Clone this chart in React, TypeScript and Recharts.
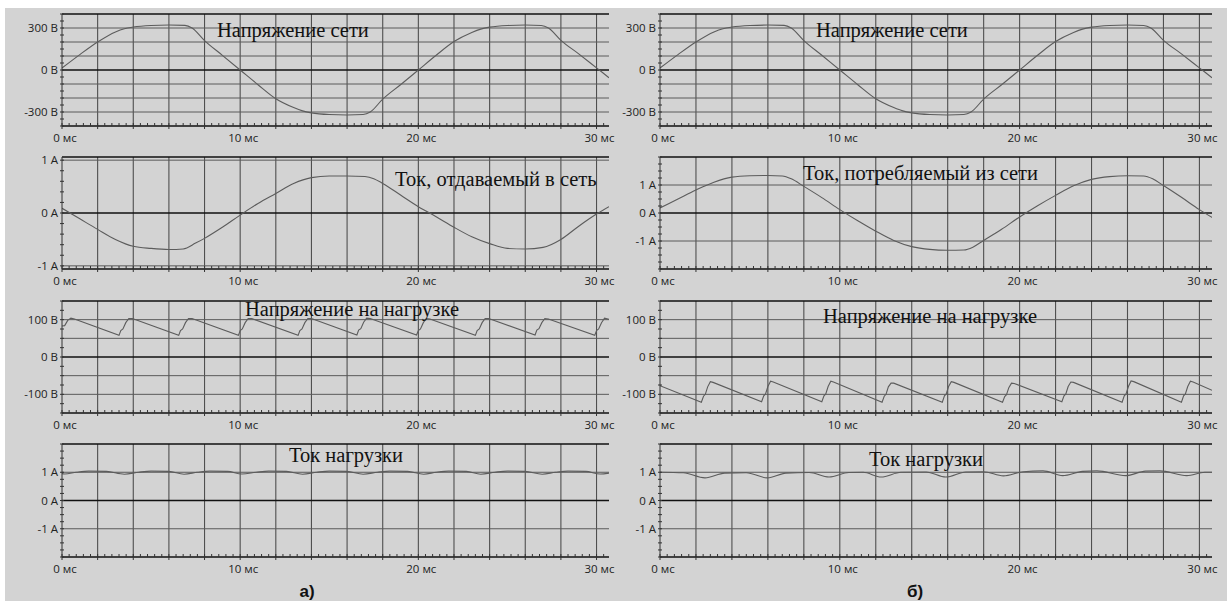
import { LineChart, Line, XAxis, YAxis, ReferenceLine } from 'recharts';

type Pt = [number, number];

const T_MAX = 30.7;

// time axis: labels, 2 ms grid, 0.4 ms minor ticks
const timeLabelValues = [0, 10, 20, 30];
const timeLabels = ['0 мс', '10 мс', '20 мс', '30 мс'];
const timeGrid = [2, 4, 6, 8, 10, 12, 14, 16, 18, 20, 22, 24, 26, 28, 30];
const timeMinor = Array.from({ length: 77 }, (_, i) => (i * 4) / 10);

const titles = {
  gridVoltage: 'Напряжение сети',
  currentOut: 'Ток, отдаваемый в сеть',
  currentIn: 'Ток, потребляемый из сети',
  loadVoltage: 'Напряжение на нагрузке',
  loadCurrent: 'Ток нагрузки',
};

// Напряжение сети (same in a and б), V
const gridVoltage: Pt[] = [
  [0, 14], [1, 110], [2, 200], [3, 272], [3.5, 295], [4, 307], [5, 318], [6, 321], [6.9, 319], [7.3, 300],
  [8, 210], [9, 105], [10, 0], [11, -105], [12, -205], [13, -268], [13.5, -292], [14, -306], [15, -318],
  [16, -321], [16.9, -318], [17.3, -300], [18, -208], [19, -105], [20, 0], [21, 105], [22, 203], [23, 268],
  [23.5, 292], [24, 306], [25, 318], [26, 321], [26.9, 318], [27.3, 300], [28, 212], [29, 115], [30, 15],
  [30.7, -55],
];

// а) Ток, отдаваемый в сеть, A
const currentOut: Pt[] = [
  [0, 0.09], [1, -0.11], [2, -0.31], [3, -0.5], [4, -0.63], [5, -0.67], [6, -0.69], [6.8, -0.68], [7.5, -0.57],
  [8, -0.48], [9, -0.27], [10, -0.04], [11, 0.18], [12, 0.37], [13, 0.56], [14, 0.67], [15, 0.7], [16, 0.7],
  [17, 0.69], [17.5, 0.65], [18, 0.56], [19, 0.34], [20, 0.12], [21, -0.07], [22, -0.27], [23, -0.45],
  [24, -0.58], [25, -0.67], [26, -0.68], [27, -0.65], [28, -0.5], [29, -0.25], [30, -0.02], [30.7, 0.12],
];

// б) Ток, потребляемый из сети, A
const currentIn: Pt[] = [
  [0, 0.18], [1, 0.5], [2, 0.82], [3, 1.1], [4, 1.28], [5, 1.33], [6, 1.34], [6.8, 1.32], [7.3, 1.22],
  [8, 0.95], [9, 0.55], [10, 0.12], [11, -0.28], [12, -0.65], [13, -0.98], [14, -1.2], [15, -1.3], [16, -1.33],
  [16.9, -1.32], [17.4, -1.22], [18, -0.98], [19, -0.58], [20, -0.14], [21, 0.26], [22, 0.63], [23, 0.97],
  [24, 1.2], [25, 1.3], [26, 1.33], [26.9, 1.32], [27.4, 1.22], [28, 0.98], [29, 0.56], [30, 0.12], [30.7, -0.16],
];

// а) Напряжение на нагрузке, V
const loadVoltageA: Pt[] = [
  [0, 83], [0.15, 84], [0.32, 98], [0.5, 104], [0.7, 102],
  [3.2, 58], [3.3, 71], [3.42, 75], [3.58, 92], [3.75, 103], [3.95, 103],
  [6.55, 58], [6.65, 71], [6.77, 75], [6.93, 92], [7.1, 103], [7.3, 103],
  [9.9, 58], [10.0, 71], [10.12, 75], [10.28, 92], [10.45, 103], [10.65, 103],
  [13.25, 58], [13.35, 71], [13.47, 75], [13.63, 92], [13.8, 103], [14.0, 103],
  [16.55, 59], [16.65, 72], [16.77, 76], [16.93, 93], [17.1, 104], [17.3, 103],
  [19.9, 59], [20.0, 71], [20.12, 75], [20.28, 92], [20.45, 103], [20.65, 102],
  [23.2, 58], [23.3, 71], [23.42, 75], [23.58, 92], [23.75, 103], [23.95, 103],
  [26.55, 59], [26.65, 72], [26.77, 76], [26.93, 92], [27.1, 103], [27.3, 102],
  [29.9, 58], [30.0, 71], [30.12, 75], [30.28, 92], [30.45, 104], [30.7, 101],
];

// б) Напряжение на нагрузке, V
const loadVoltageB: Pt[] = [
  [0, -77],
  [2.3, -121], [2.42, -105], [2.52, -100], [2.65, -80], [2.8, -66], [2.95, -68],
  [5.65, -120], [5.77, -104], [5.87, -99], [6.0, -79], [6.15, -65], [6.3, -67],
  [9.0, -120], [9.12, -104], [9.22, -99], [9.35, -79], [9.5, -65], [9.65, -67],
  [12.35, -121], [12.47, -105], [12.57, -100], [12.7, -80], [12.85, -70], [13.0, -70],
  [15.7, -121], [15.82, -104], [15.92, -99], [16.05, -79], [16.2, -66], [16.35, -68],
  [19.05, -121], [19.17, -106], [19.27, -101], [19.4, -82], [19.55, -70], [19.7, -71],
  [22.35, -120], [22.47, -104], [22.57, -99], [22.7, -79], [22.85, -67], [23.0, -68],
  [25.7, -121], [25.82, -104], [25.92, -99], [26.05, -79], [26.2, -64], [26.35, -66],
  [29.0, -121], [29.12, -104], [29.22, -99], [29.35, -79], [29.5, -65], [29.65, -67],
  [30.7, -89],
];

// а) Ток нагрузки, A
const loadCurrentA: Pt[] = [
  [0, 0.95], [0.15, 0.94], [0.8, 1.0], [1.5, 1.04], [2.5, 1.03], [3.5, 0.93], [4.3, 1.0], [5.0, 1.04],
  [6.0, 1.03], [6.85, 0.93], [7.6, 1.0], [8.3, 1.04], [9.3, 1.03], [10.1, 0.94], [10.9, 1.0], [11.6, 1.04],
  [12.6, 1.03], [13.5, 0.93], [14.3, 1.0], [15.0, 1.04], [16.0, 1.03], [16.9, 0.93], [17.7, 1.0], [18.4, 1.04],
  [19.4, 1.03], [20.3, 0.93], [21.0, 1.0], [21.7, 1.04], [22.7, 1.03], [23.5, 0.93], [24.3, 1.0], [25.0, 1.04],
  [26.0, 1.03], [26.95, 0.93], [27.7, 1.0], [28.4, 1.04], [29.4, 1.03], [30.2, 0.94], [30.7, 0.97],
];

// б) Ток нагрузки, A
const loadCurrentB: Pt[] = [
  [0, 1.0], [1.3, 0.98], [2.5, 0.8], [3.6, 0.97], [4.8, 0.98], [5.97, 0.8], [7.0, 0.97], [8.3, 0.99],
  [9.4, 0.83], [10.5, 0.99], [11.3, 1.0], [12.3, 0.83], [13.4, 1.0], [14.8, 1.01], [15.9, 0.83], [17.0, 1.01],
  [18.0, 1.02], [19.1, 0.87], [20.2, 1.02], [21.3, 1.05], [22.4, 0.88], [23.5, 1.03], [24.3, 1.05],
  [25.9, 0.88], [27.0, 1.04], [27.8, 1.05], [29.3, 0.88], [30.3, 1.0], [30.7, 1.0],
];

// y-axis ticks and labels
const voltTicks300 = [-400, -350, -300, -250, -200, -150, -100, -50, 0, 50, 100, 150, 200, 250, 300, 350, 400];
const voltLabels300: [number, string][] = [[300, '300 В'], [0, '0 В'], [-300, '-300 В']];
const voltGrid300 = [-300, -200, -100, 100, 200, 300];

const voltTicks100 = [-150, -125, -100, -75, -50, -25, 0, 25, 50, 75, 100, 125, 150];
const voltLabels100: [number, string][] = [[100, '100 В'], [0, '0 В'], [-100, '-100 В']];
const voltGrid100 = [-100, -50, 50, 100];

const ampTicks1 = [-1, -0.8, -0.6, -0.4, -0.2, 0, 0.2, 0.4, 0.6, 0.8, 1];
const ampTicks2 = [-2, -1.75, -1.5, -1.25, -1, -0.75, -0.5, -0.25, 0, 0.25, 0.5, 0.75, 1, 1.25, 1.5, 1.75, 2];
const ampLabels: [number, string][] = [[1, '1 А'], [0, '0 А'], [-1, '-1 А']];
const ampGrid = [-1, 1];

const TICK_FONT = "'Open Sans', 'DejaVu Sans', sans-serif";
const TITLE_FONT = "'Liberation Serif', 'Times New Roman', serif";

const toRows = (pts: Pt[]) => pts.map(([t, v]) => ({ t, v }));
const near = (a: number, b: number) => Math.abs(a - b) < 1e-6;

function XTick(props: any) {
  const { x, y, payload } = props;
  const v = payload.value as number;
  const major = near(v / 2, Math.round(v / 2));
  const li = timeLabelValues.findIndex((t) => near(t, v));
  return (
    <g>
      <line x1={x} x2={x} y1={y - 3} y2={y + (major ? 3 : 0)} stroke="#333" strokeWidth={1} />
      {li >= 0 && (
        <text x={x + 3} y={y + 16} textAnchor="middle" fontSize={11.5} fontFamily={TICK_FONT} fill="#222">
          {timeLabels[li]}
        </text>
      )}
    </g>
  );
}

function makeYTick(labels: [number, string][]) {
  return (props: any) => {
    const { x, y, payload } = props;
    const hit = labels.find(([v]) => near(v, payload.value));
    return (
      <g>
        <line x1={x - 2} x2={x + 2} y1={y} y2={y} stroke="#333" strokeWidth={1} />
        {hit && (
          <text x={x - 4} y={y + 4} textAnchor="end" fontSize={11.5} fontFamily={TICK_FONT} fill="#222">
            {hit[1]}
          </text>
        )}
      </g>
    );
  };
}

interface PanelProps {
  left: number;
  top: number;
  plotW: number;
  plotH: number;
  series: Pt[];
  curve: 'monotone' | 'linear';
  domain: [number, number];
  grid: number[];
  ticks: number[];
  labels: [number, string][];
}

function Panel({ left, top, plotW, plotH, series, curve, domain, grid, ticks, labels }: PanelProps) {
  const ML = 62;
  const MT = 6;
  const MR = 8;
  const XH = 30;
  return (
    <div style={{ position: 'absolute', left: left - ML, top: top - MT }}>
      <LineChart width={ML + plotW + MR} height={MT + plotH + XH} margin={{ top: MT, right: MR, left: 0, bottom: 0 }}>
        <XAxis
          type="number"
          dataKey="t"
          domain={[0, T_MAX]}
          allowDataOverflow
          ticks={timeMinor}
          interval={0}
          tickSize={0}
          tickMargin={0}
          tickLine={false}
          tick={XTick}
          axisLine={{ stroke: '#111', strokeWidth: 1.3 }}
          height={XH}
        />
        <YAxis
          type="number"
          domain={domain}
          allowDataOverflow
          ticks={ticks}
          interval={0}
          tickSize={0}
          tickMargin={0}
          tickLine={false}
          tick={makeYTick(labels)}
          axisLine={{ stroke: '#333' }}
          width={ML}
        />
        {timeGrid.map((t) => (
          <ReferenceLine key={`x${t}`} x={t} stroke="#4f4f4f" strokeWidth={1.1} />
        ))}
        {grid.map((v) => (
          <ReferenceLine key={`y${v}`} y={v} stroke="#5a5a5a" strokeWidth={1} />
        ))}
        <ReferenceLine y={0} stroke="#111" strokeWidth={1.5} />
        <ReferenceLine y={domain[1]} stroke="#111" strokeWidth={1.5} />
        <Line
          data={toRows(series)}
          dataKey="v"
          type={curve}
          stroke="#5c5c5c"
          strokeWidth={1.1}
          dot={false}
          isAnimationActive={false}
        />
      </LineChart>
    </div>
  );
}

const L = 62;
const R = 660;
const WL = 547;
const WR = 552;

export default function App() {
  return (
    <div style={{ position: 'absolute', left: 0, top: 0, width: 1227, height: 601, background: '#fff', overflow: 'hidden' }}>
      <div style={{ position: 'absolute', left: 5, top: 8, width: 1222, height: 593, background: '#d3d3d3' }} />

      <Panel left={L} top={14} plotW={WL} plotH={112} series={gridVoltage} curve="monotone" domain={[-400, 400]} grid={voltGrid300} ticks={voltTicks300} labels={voltLabels300} />
      <Panel left={L} top={157} plotW={WL} plotH={112} series={currentOut} curve="monotone" domain={[-1.06, 1.06]} grid={ampGrid} ticks={ampTicks1} labels={ampLabels} />
      <Panel left={L} top={301} plotW={WL} plotH={112} series={loadVoltageA} curve="linear" domain={[-150, 150]} grid={voltGrid100} ticks={voltTicks100} labels={voltLabels100} />
      <Panel left={L} top={444} plotW={WL} plotH={113} series={loadCurrentA} curve="monotone" domain={[-2, 2]} grid={ampGrid} ticks={ampTicks2} labels={ampLabels} />

      <Panel left={R} top={14} plotW={WR} plotH={112} series={gridVoltage} curve="monotone" domain={[-400, 400]} grid={voltGrid300} ticks={voltTicks300} labels={voltLabels300} />
      <Panel left={R} top={157} plotW={WR} plotH={112} series={currentIn} curve="monotone" domain={[-2, 2]} grid={ampGrid} ticks={ampTicks2} labels={ampLabels} />
      <Panel left={R} top={301} plotW={WR} plotH={112} series={loadVoltageB} curve="linear" domain={[-150, 150]} grid={voltGrid100} ticks={voltTicks100} labels={voltLabels100} />
      <Panel left={R} top={444} plotW={WR} plotH={113} series={loadCurrentB} curve="monotone" domain={[-2, 2]} grid={ampGrid} ticks={ampTicks2} labels={ampLabels} />

      <svg width={1227} height={601} style={{ position: 'absolute', left: 0, top: 0, pointerEvents: 'none' }}>
        <g fontFamily={TITLE_FONT} fontSize={20.5} fill="#111">
          <text x={217} y={37}>{titles.gridVoltage}</text>
          <text x={816} y={37}>{titles.gridVoltage}</text>
          <text x={395} y={186}>{titles.currentOut}</text>
          <text x={803} y={180}>{titles.currentIn}</text>
          <text x={245} y={316}>{titles.loadVoltage}</text>
          <text x={823} y={323}>{titles.loadVoltage}</text>
          <text x={289} y={462}>{titles.loadCurrent}</text>
          <text x={869} y={466}>{titles.loadCurrent}</text>
        </g>
        <g fontFamily="'Liberation Sans', Arial, sans-serif" fontSize={17} fontWeight="bold" fill="#111" textAnchor="middle">
          <text x={307} y={597}>а)</text>
          <text x={915} y={597}>б)</text>
        </g>
      </svg>
    </div>
  );
}
